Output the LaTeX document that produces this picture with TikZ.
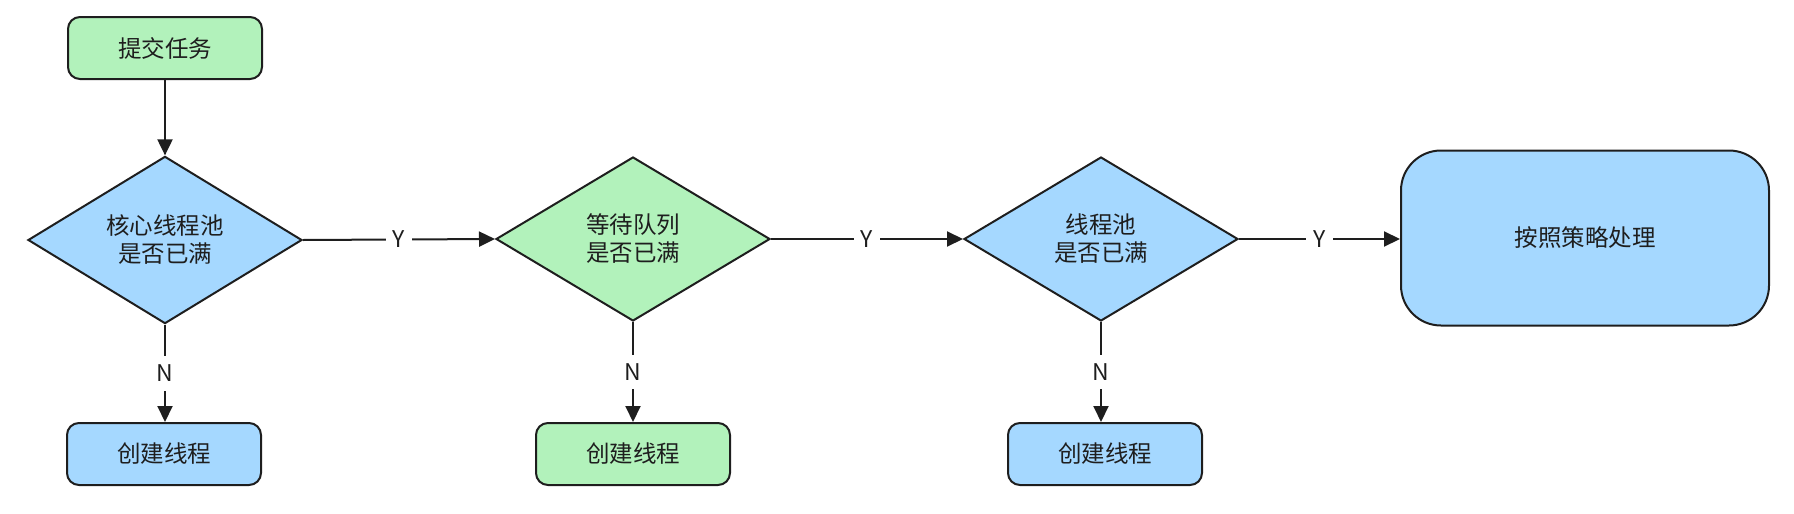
\documentclass[tikz,border=0pt]{standalone}
\usepackage{fontspec}
\setmainfont{Noto Sans CJK SC}
\usetikzlibrary{shapes.geometric,arrows.meta}
\definecolor{gfill}{HTML}{B2F2BB}
\definecolor{bfill}{HTML}{A5D8FF}
\definecolor{ink}{HTML}{1E1E1E}
\tikzset{
  x=1pt, y=-1pt,
  every node/.style={font=\fontsize{23.5}{28}\selectfont, text=ink},
  sbox/.style={draw=ink, line width=2pt, rounded corners=12pt, minimum width=194pt, minimum height=62pt, inner sep=0pt},
  dia/.style={diamond, draw=ink, line width=2pt, minimum width=274pt, minimum height=164pt, inner sep=0pt, align=center},
  conn/.style={draw=ink, line width=2pt, -{Triangle[length=16pt,width=15pt]}},
  lbl/.style={fill=white, inner xsep=7pt, inner ysep=9pt, font=\fontsize{23}{26}\selectfont}
}
\begin{document}
\begin{tikzpicture}
\useasboundingbox (0,0) rectangle (1794,514);
\node[sbox, fill=gfill] (start) at (165,48) {提交任务};
\node[dia, fill=bfill] (d1) at (165,240) {核心线程池\\是否已满};
\node[dia, fill=gfill] (d2) at (633,239) {等待队列\\是否已满};
\node[dia, fill=bfill] (d3) at (1101,239) {线程池\\是否已满};
\node[draw=ink, line width=2pt, rounded corners=40pt, fill=bfill, minimum width=368pt, minimum height=175pt, inner sep=0pt] (big) at (1585,238) {按照策略处理};
\node[sbox, fill=bfill] (b1) at (164,454) {创建线程};
\node[sbox, fill=gfill] (b2) at (633,454) {创建线程};
\node[sbox, fill=bfill] (b3) at (1105,454) {创建线程};
\draw[conn] (start.south) -- (d1.north);
\draw[conn] (d1.east) -- node[lbl]{Y} (d2.west);
\draw[conn] (d2.east) -- node[lbl]{Y} (d3.west);
\draw[conn] (d3.east) -- node[lbl]{Y} (big.west |- d3.east);
\draw[conn] (d1.south) -- node[lbl]{N} (b1.north -| d1.south);
\draw[conn] (d2.south) -- node[lbl]{N} (b2.north);
\draw[conn] (d3.south) -- node[lbl]{N} (b3.north -| d3.south);
\end{tikzpicture}
\end{document}
